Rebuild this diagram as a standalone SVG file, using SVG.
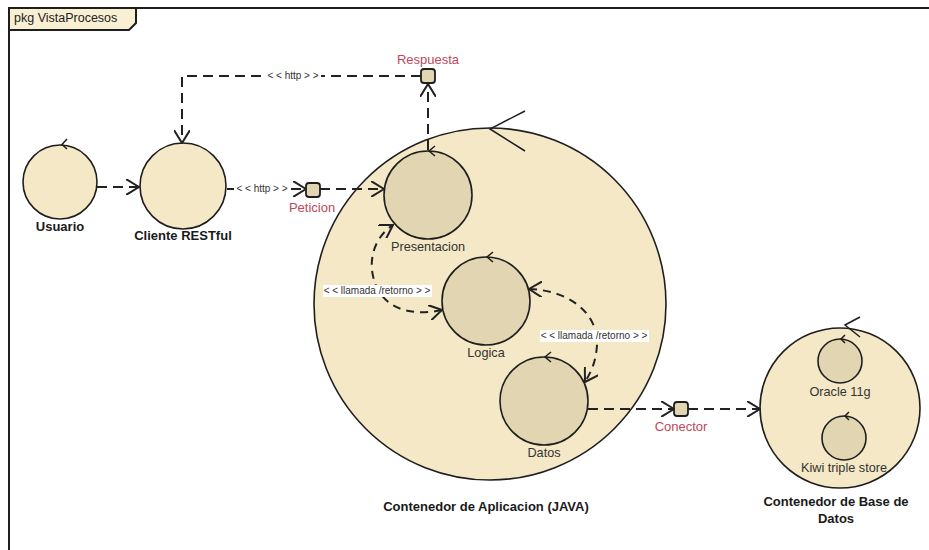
<svg xmlns="http://www.w3.org/2000/svg" width="929" height="550" viewBox="0 0 929 550">
  <style>
    text { font-family: "Liberation Sans", Arial, sans-serif; }
    .outer { fill: #f4e8c6; stroke: #1e1e1e; stroke-width: 1.6; }
    .inner { fill: #e2d5b1; stroke: #1e1e1e; stroke-width: 1.6; }
    .port { fill: #e2d5b1; stroke: #1e1e1e; stroke-width: 1.8; }
    .self { fill: none; stroke: #1e1e1e; stroke-width: 1.5; }
    .conn { fill: none; stroke: #222; stroke-width: 2; stroke-dasharray: 10 6; }
    .curve { fill: none; stroke: #222; stroke-width: 2; stroke-dasharray: 8 6; }
    .bold { font-size: 13px; font-weight: bold; fill: #1a1a1a; text-anchor: middle; }
    .name { font-size: 12.7px; fill: #333; text-anchor: middle; }
    .portlbl { font-size: 13px; fill: #c0485a; text-anchor: middle; }
    .stereo { font-size: 10px; fill: #333; text-anchor: middle; }
    .bg { fill: #ffffff; }
  </style>
  <defs>
    <marker id="open" viewBox="0 0 14 16" refX="13" refY="8" markerWidth="14" markerHeight="16" markerUnits="userSpaceOnUse" orient="auto-start-reverse">
      <path d="M0,0 L13,8 L0,16" fill="none" stroke="#222" stroke-width="2" stroke-dasharray="none"/>
    </marker>
  </defs>

  <!-- package frame -->
  <g id="frame">
    <path d="M9,550 V8 H929" fill="none" stroke="#1e1e1e" stroke-width="2"/>
    <path d="M9,30 V8 H136 V23 L129,30 Z" fill="#f9efd3" stroke="#1e1e1e" stroke-width="2"/>
    <text x="14" y="22" font-size="12.5" fill="#222">pkg VistaProcesos</text>
  </g>

  <!-- nodes -->
  <g id="usuario">
    <circle class="outer" cx="60" cy="182" r="37"/>
    <polyline class="self" points="67,139 62,144.5 67,149"/>
    <text class="bold" x="60" y="231">Usuario</text>
  </g>

  <g id="cliente">
    <circle class="outer" cx="183" cy="186" r="43"/>
    <text class="bold" x="183" y="240">Cliente RESTful</text>
  </g>

  <g id="contenedor-app">
    <circle class="outer" cx="490" cy="304" r="176"/>
    <polyline class="self" points="525,111 490,129 525,151"/>
    <text class="bold" x="486" y="511">Contenedor de Aplicacion (JAVA)</text>
  </g>

  <g id="presentacion">
    <circle class="inner" cx="428" cy="195" r="44"/>
    <polyline class="self" points="435,146 429,151 435,156"/>
    <text class="name" x="428" y="251">Presentacion</text>
  </g>

  <g id="logica">
    <circle class="inner" cx="486" cy="301" r="44"/>
    <polyline class="self" points="493,252 487,257 493,262"/>
    <text class="name" x="486" y="357">Logica</text>
  </g>

  <g id="datos">
    <circle class="inner" cx="544" cy="401" r="44"/>
    <polyline class="self" points="551,352 545,357 551,362"/>
    <text class="name" x="544" y="457">Datos</text>
  </g>

  <g id="contenedor-bd">
    <circle class="outer" cx="840" cy="408" r="80"/>
    <polyline class="self" points="860,317 845,325 860,337"/>
    <text class="bold" x="836" y="506">Contenedor de Base de</text>
    <text class="bold" x="836" y="523">Datos</text>
  </g>

  <g id="oracle">
    <circle class="inner" cx="840" cy="361" r="22"/>
    <polyline class="self" points="845,335 841,339 845,343"/>
    <text class="name" x="840" y="396">Oracle 11g</text>
  </g>

  <g id="kiwi">
    <circle class="inner" cx="844" cy="438" r="22"/>
    <polyline class="self" points="849,412 845,416 849,420"/>
    <text class="name" x="844" y="472">Kiwi triple store</text>
  </g>

  <!-- ports -->
  <g id="peticion">
    <rect class="port" x="306" y="183" width="14" height="14" rx="3"/>
    <text class="portlbl" x="312" y="212">Peticion</text>
  </g>

  <g id="respuesta">
    <rect class="port" x="421" y="69" width="14" height="14" rx="3"/>
    <text class="portlbl" x="428" y="64">Respuesta</text>
  </g>

  <g id="conector">
    <rect class="port" x="674" y="402" width="14" height="14" rx="3"/>
    <text class="portlbl" x="681" y="431">Conector</text>
  </g>

  <!-- connectors -->
  <g id="connectors">
    <line class="conn" x1="97" y1="187" x2="139" y2="187" marker-end="url(#open)"/>

    <line class="conn" x1="227" y1="189" x2="306" y2="189" marker-end="url(#open)"/>
    <rect class="bg" x="234" y="183" width="56" height="12"/>
    <text class="stereo" x="262" y="192">&lt; &lt; http &gt; &gt;</text>

    <line class="conn" x1="320" y1="189" x2="384" y2="189" marker-end="url(#open)"/>

    <line class="conn" x1="428" y1="150" x2="428" y2="84" marker-end="url(#open)"/>

    <path class="conn" d="M421,76 H182 V143" marker-end="url(#open)"/>
    <rect class="bg" x="265" y="70" width="56" height="12"/>
    <text class="stereo" x="293" y="79">&lt; &lt; http &gt; &gt;</text>

    <path class="curve" d="M442,310 C405,318 376,305 372,270 C370,250 380,233 393,225" marker-start="url(#open)" marker-end="url(#open)"/>
    <rect class="bg" x="323" y="285" width="109" height="12"/>
    <text class="stereo" x="377" y="294">&lt; &lt;  llamada /retorno &gt; &gt;</text>

    <path class="curve" d="M529,289 C565,290 598,310 597,345 C596,362 591,372 585,382" marker-start="url(#open)" marker-end="url(#open)"/>
    <rect class="bg" x="540" y="330" width="109" height="12"/>
    <text class="stereo" x="594" y="339">&lt; &lt;  llamada /retorno &gt; &gt;</text>

    <line class="conn" x1="588" y1="409" x2="674" y2="409" marker-end="url(#open)"/>

    <line class="conn" x1="688" y1="409" x2="760" y2="409" marker-end="url(#open)"/>
  </g>
</svg>
